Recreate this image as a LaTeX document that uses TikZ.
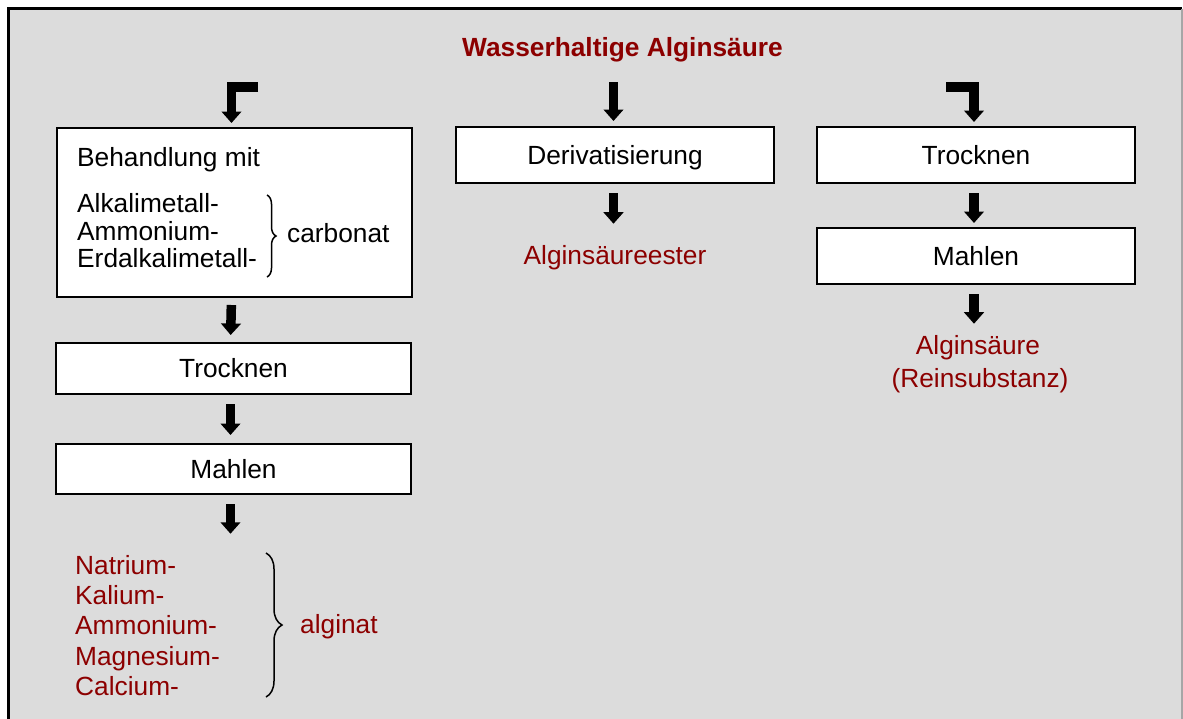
\documentclass[tikz,border=0pt]{standalone}
\usepackage{fontspec}
\setmainfont{Liberation Sans}
\usepackage{tikz}
\usetikzlibrary{arrows.meta,decorations.pathreplacing}
\definecolor{dunkelrot}{RGB}{140,0,0}
\definecolor{hintergrund}{RGB}{220,220,220}
\tikzset{
  kasten/.style={draw=black, line width=2pt, fill=white, inner sep=0pt,
    text height=18.6pt, text depth=0pt},
  zeile/.style={inner sep=0pt, anchor=base west},
  mitte/.style={inner sep=0pt, anchor=base},
  rot/.style={text=dunkelrot},
  pfeil/.style={line width=9.5pt, line join=miter,
    -{Triangle[width=19.5pt,length=11.5pt]}},
  klammer/.style={decorate, decoration={brace, amplitude=#1}, line width=1.5pt},
  klammer/.default=9pt,
}

\begin{document}
\begin{tikzpicture}[x=1pt,y=-1pt]
  \fontsize{26.3}{30}\selectfont
  \useasboundingbox (0,0) rectangle (1183,718);
  \fill[hintergrund] (8.5,8.5) rectangle (1182,725);
  \draw[line width=2.7pt] (8.5,725) -- (8.5,8.5) -- (1182,8.5);
  \draw[black!35, line width=1.5pt] (1182,8.5) -- (1182,725);

  \node[mitte, rot, font=\bfseries] (titel) at (622.5,56) {Wasserhaltige Alginsäure};

  % linke Spalte
  \node[kasten, anchor=north west, minimum width=355pt, minimum height=169pt] (behandlung) at (56,127) {};
  \node[zeile] (bm) at (77,166) {Behandlung mit};
  \node[zeile] (alkali) at (77,212) {Alkalimetall-};
  \node[zeile] (ammon) at (77,240) {Ammonium-};
  \node[zeile] (erdalkali) at (77,267) {Erdalkalimetall-};
  \draw[klammer] (267,195) -- (267,277);
  \node[zeile] (carbonat) at (287,242) {carbonat};

  \node[kasten, minimum width=355pt, minimum height=51pt] (trocknenL) at (233.5,368.5) {Trocknen};
  \node[kasten, minimum width=355pt, minimum height=50pt] (mahlenL) at (233.5,469) {Mahlen};

  \node[zeile, rot] (natrium) at (75,574) {Natrium-};
  \node[zeile, rot] (kalium) at (75,604) {Kalium-};
  \node[zeile, rot] (ammonium) at (75,634) {Ammonium-};
  \node[zeile, rot] (magnesium) at (75,665) {Magnesium-};
  \node[zeile, rot] (calcium) at (75,695) {Calcium-};
  \draw[klammer=16pt] (266,553) -- (266,697);
  \node[zeile, rot] (alginat) at (300,633) {alginat};

  \coordinate (lanfang) at (258,87.2);
  \draw[pfeil, shorten >=4pt] (lanfang) -| ([xshift=-3pt]behandlung.north);
  \draw[pfeil, shorten <=7pt, shorten >=7pt] ([xshift=-3pt]behandlung.south) -- ([xshift=-3pt]trocknenL.north);
  \draw[pfeil, shorten <=9pt, shorten >=8pt] ([xshift=-3pt]trocknenL.south) -- ([xshift=-3pt]mahlenL.north);
  \draw[pfeil, shorten <=9pt, shorten >=21pt] ([xshift=-3pt]mahlenL.south) -- ([xshift=-3pt]mahlenL.south |- natrium.north);

  % mittlere Spalte
  \node[kasten, minimum width=318pt, minimum height=56pt] (derivat) at (615,155) {Derivatisierung};
  \node[mitte, rot] (ester) at (615,264) {Alginsäureester};
  \coordinate (manfang) at (613.5,82);
  \draw[pfeil, shorten >=5pt] (manfang) -- (manfang |- derivat.north);
  \draw[pfeil, shorten <=9pt, shorten >=21pt] ([xshift=-1.5pt]derivat.south) -- ([xshift=-1.5pt]derivat.south |- ester.north);

  % rechte Spalte
  \node[kasten, minimum width=318pt, minimum height=56pt] (trocknenR) at (976,155) {Trocknen};
  \node[kasten, minimum width=318pt, minimum height=56pt] (mahlenR) at (976,256) {Mahlen};
  \node[mitte, rot] (saeure) at (978,354) {Alginsäure};
  \node[mitte, rot] (rein) at (980,387) {(Reinsubstanz)};
  \coordinate (ranfang) at (946,87.2);
  \draw[pfeil, shorten >=4pt] (ranfang) -| ([xshift=-2pt]trocknenR.north);
  \draw[pfeil, shorten <=9pt, shorten >=4pt] ([xshift=-2pt]trocknenR.south) -- ([xshift=-2pt]mahlenR.north);
  \draw[pfeil, shorten <=9pt, shorten >=11pt] ([xshift=-2pt]mahlenR.south) -- ([xshift=-2pt]mahlenR.south |- saeure.north);
\end{tikzpicture}
\end{document}
